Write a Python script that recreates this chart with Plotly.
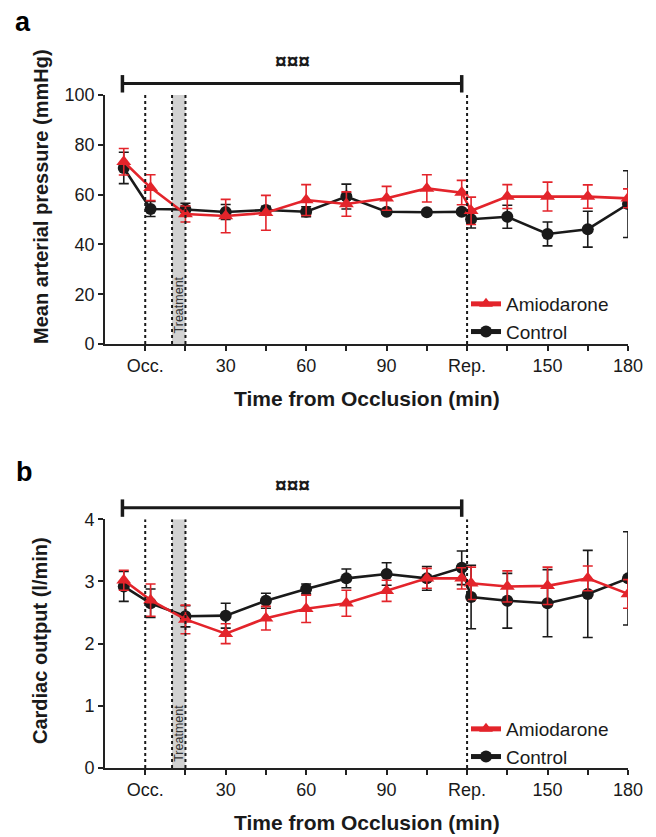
import plotly.graph_objects as go

# ---- data ----
time_pts = [-8, 2, 15, 30, 45, 60, 75, 90, 105, 118, 121.5, 135, 150, 165, 180]

map_control = [70.7, 54.2, 54.0, 53.0, 53.8, 53.1, 59.2, 53.1, 52.9, 53.1, 50.1, 51.1, 44.2, 46.1, 56.2]
map_control_err = [6.3, 3.0, 2.5, 3.0, 1.5, 2.0, 5.0, 1.0, 1.0, 1.0, 3.5, 4.6, 4.8, 7.2, 13.4]
map_amio = [73.2, 62.8, 52.2, 51.4, 52.7, 57.8, 56.2, 58.5, 62.5, 60.8, 53.5, 59.2, 59.2, 59.2, 58.5]
map_amio_err = [5.3, 5.2, 3.2, 6.7, 7.0, 6.2, 4.9, 4.8, 5.5, 4.9, 5.5, 4.8, 5.8, 4.7, 3.8]

co_control = [2.92, 2.65, 2.44, 2.45, 2.69, 2.88, 3.05, 3.12, 3.05, 3.22, 2.75, 2.69, 2.65, 2.80, 3.05]
co_control_err = [0.24, 0.23, 0.17, 0.20, 0.12, 0.08, 0.15, 0.18, 0.19, 0.27, 0.51, 0.44, 0.54, 0.70, 0.75]
co_amio = [3.02, 2.70, 2.39, 2.16, 2.41, 2.56, 2.65, 2.85, 3.05, 3.05, 2.97, 2.92, 2.93, 3.05, 2.80]
co_amio_err = [0.16, 0.26, 0.23, 0.16, 0.19, 0.22, 0.21, 0.17, 0.16, 0.17, 0.26, 0.25, 0.30, 0.20, 0.23]

x_tickvals = [0, 15, 30, 45, 60, 75, 90, 105, 120, 135, 150, 165, 180]
x_ticktext = ["Occ.", "", "30", "", "60", "", "90", "", "Rep.", "", "150", "", "180"]
map_ticks = [0, 20, 40, 60, 80, 100]
co_ticks = [0, 1, 2, 3, 4]

occ_t, treat_start, treat_end, rep_t = 0, 10, 15, 120
bar_start, bar_end = -8.5, 118
sig_label = "¤¤¤"

RED = "#e3242b"
BLACK = "#1a1a1a"
AX = "#222222"
FONT = "Liberation Sans, Arial, sans-serif"

fig = go.Figure()


def add_series(xaxis, yaxis, y, err, name, color, symbol, size, legend, show):
    fig.add_trace(go.Scatter(
        x=time_pts, y=y, name=name, xaxis=xaxis, yaxis=yaxis,
        mode="lines+markers",
        line=dict(color=color, width=2.6),
        marker=dict(color=color, symbol=symbol, size=size, line=dict(width=0)),
        error_y=dict(type="data", array=err, color=color, thickness=1.6, width=5),
        legend=legend, showlegend=show,
        legendrank=1 if name == "Amiodarone" else 2,
    ))


add_series("x", "y", map_control, map_control_err, "Control", BLACK, "circle", 12, "legend", True)
add_series("x", "y", map_amio, map_amio_err, "Amiodarone", RED, "triangle-up", 13, "legend", True)
add_series("x2", "y2", co_control, co_control_err, "Control", BLACK, "circle", 12, "legend2", True)
add_series("x2", "y2", co_amio, co_amio_err, "Amiodarone", RED, "triangle-up", 13, "legend2", True)

shapes = []
annotations = []
for xr, yr, ymax, tr_y in [("x", "y", 100, 15.5), ("x2", "y2", 4, 0.55)]:
    shapes.append(dict(type="rect", xref=xr, yref=yr, x0=treat_start, x1=treat_end,
                       y0=0, y1=ymax, fillcolor="#d2d2d2", line=dict(width=0), layer="below"))
    for xv in [occ_t, treat_start, treat_end, rep_t]:
        shapes.append(dict(type="line", xref=xr, yref=yr, x0=xv, x1=xv, y0=0, y1=ymax,
                           line=dict(color=BLACK, width=2, dash="dot")))
    ydom = yr + " domain"
    shapes.append(dict(type="line", xref=xr, yref=ydom, x0=bar_start, x1=bar_end,
                       y0=1.046, y1=1.046, line=dict(color=BLACK, width=3)))
    for xv in [bar_start, bar_end]:
        shapes.append(dict(type="line", xref=xr, yref=ydom, x0=xv, x1=xv,
                           y0=1.01, y1=1.08, line=dict(color=BLACK, width=3.5)))
    annotations.append(dict(text="<b>" + sig_label + "</b>", xref=xr, yref=ydom,
                            x=(bar_start + bar_end) / 2,
                            y=1.14, showarrow=False, font=dict(size=21, color=BLACK, family=FONT),
                            xanchor="center", yanchor="middle"))
    annotations.append(dict(text="Treatment", xref=xr, yref=yr, x=12.6, y=tr_y, textangle=-90,
                            showarrow=False, font=dict(size=12.5, color="#333333", family=FONT),
                            xanchor="center", yanchor="middle"))

# plot area pixels: x 105..628, y 95..768 (paper)
H = 673.0
def py(px):
    return (768 - px) / H

def pxx(px):
    return (px - 105) / 523.0

title_font = dict(size=20, color=BLACK, family=FONT)
annotations += [
    dict(text="<b>a</b>", xref="paper", yref="paper", x=pxx(23), y=py(22), showarrow=False,
         font=dict(size=27, color="black", family=FONT), xanchor="center", yanchor="middle"),
    dict(text="<b>b</b>", xref="paper", yref="paper", x=pxx(24), y=py(472), showarrow=False,
         font=dict(size=27, color="black", family=FONT), xanchor="center", yanchor="middle"),
    dict(text="<b>Mean arterial pressure (mmHg)</b>", xref="paper", yref="paper", x=pxx(41),
         y=py(197), textangle=-90, showarrow=False, font=title_font,
         xanchor="center", yanchor="middle"),
    dict(text="<b>Cardiac output (l/min)</b>", xref="paper", yref="paper", x=pxx(40),
         y=py(641), textangle=-90, showarrow=False, font=title_font,
         xanchor="center", yanchor="middle"),
    dict(text="<b>Time from Occlusion (min)</b>", xref="paper", yref="paper", x=pxx(366.5),
         y=py(399), showarrow=False, font=dict(size=21, color=BLACK, family=FONT),
         xanchor="center", yanchor="middle"),
    dict(text="<b>Time from Occlusion (min)</b>", xref="paper", yref="paper", x=pxx(366.5),
         y=py(822), showarrow=False, font=dict(size=21, color=BLACK, family=FONT),
         xanchor="center", yanchor="middle"),
]

xaxis_common = dict(range=[-15, 180], tickvals=x_tickvals, ticktext=x_ticktext,
                    showline=True, linecolor=AX, linewidth=1.6, ticks="outside",
                    ticklen=5, tickwidth=1.6, tickcolor=AX, showgrid=False, zeroline=False,
                    tickfont=dict(size=18, color=BLACK, family=FONT))
yaxis_common = dict(showline=True, linecolor=AX, linewidth=1.6, ticks="outside",
                    ticklen=5, tickwidth=1.6, tickcolor=AX, showgrid=False, zeroline=False,
                    tickfont=dict(size=18, color=BLACK, family=FONT))

leg_common = dict(font=dict(size=19, color=BLACK, family=FONT), bgcolor="rgba(0,0,0,0)",
                  xanchor="left", yanchor="top", tracegroupgap=0, itemsizing="constant")

fig.update_layout(
    width=656, height=837,
    margin=dict(l=105, r=28, t=95, b=69),
    paper_bgcolor="white", plot_bgcolor="white",
    font=dict(family=FONT, color=BLACK),
    xaxis=dict(**xaxis_common, anchor="y"),
    xaxis2=dict(**xaxis_common, anchor="y2"),
    yaxis=dict(**yaxis_common, range=[0, 100], tickvals=map_ticks, domain=[py(344), 1.0], anchor="x"),
    yaxis2=dict(**yaxis_common, range=[0, 4], tickvals=co_ticks, domain=[0.0, py(519.3)], anchor="x2"),
    legend=dict(**leg_common, x=pxx(466), y=py(285)),
    legend2=dict(**leg_common, x=pxx(466), y=py(710)),
    shapes=shapes,
    annotations=annotations,
)

fig.write_html("out.html", config={"displayModeBar": False},
               post_script="document.body.style.margin='0';document.body.style.overflow='hidden';")
